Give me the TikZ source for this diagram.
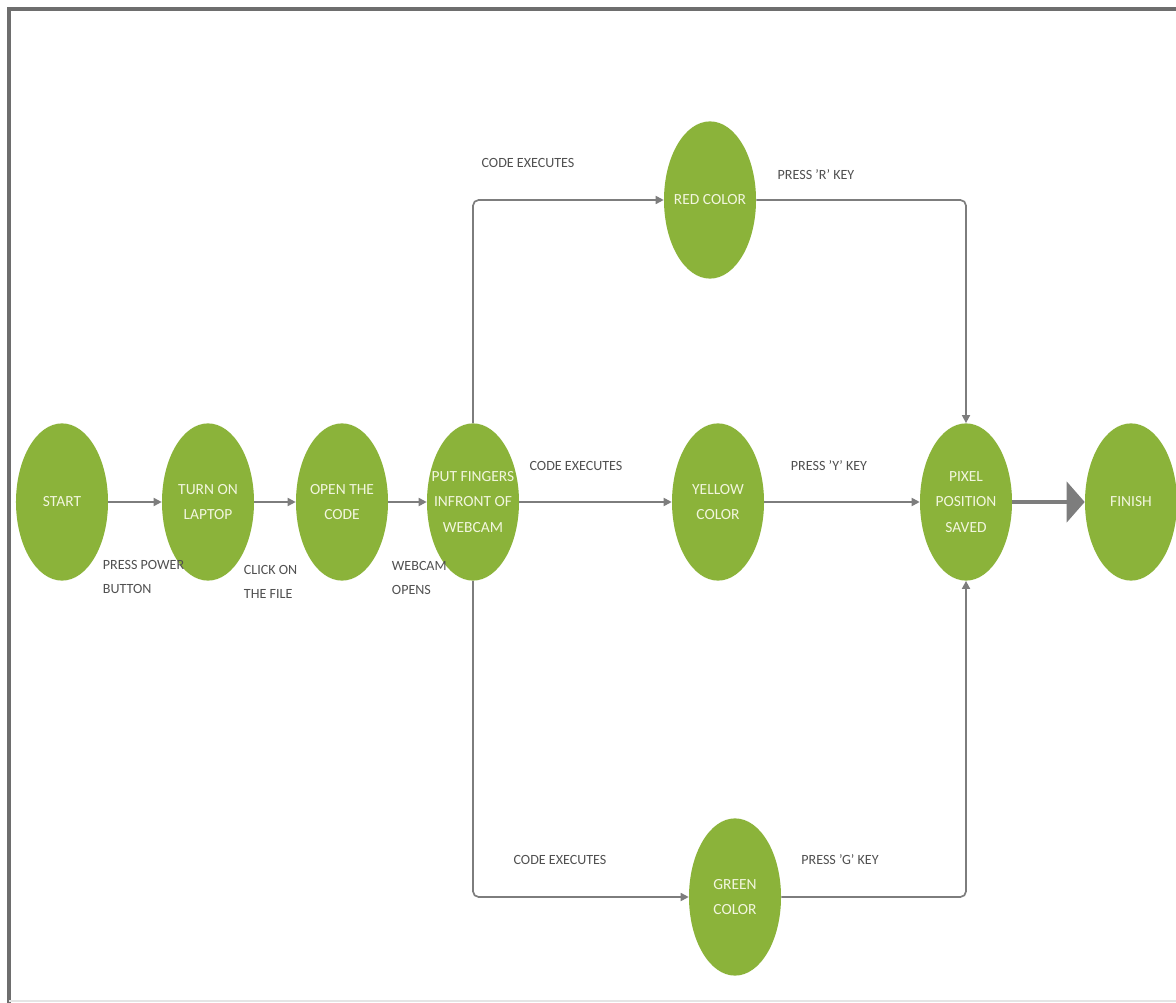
\documentclass[tikz,border=0pt]{standalone}
\usepackage{fontspec}
\setmainfont{Carlito}
\usetikzlibrary{shapes.geometric, arrows.meta, positioning}

\definecolor{leaf}{RGB}{139,179,58}
\definecolor{linegray}{RGB}{125,125,125}
\definecolor{labelgray}{RGB}{80,80,80}
\definecolor{paletext}{RGB}{242,246,222}
\definecolor{framegray}{RGB}{110,110,110}

\begin{document}
\begin{tikzpicture}[
  x=0.025cm, y=-0.025cm,
  state/.style={ellipse, fill=leaf, minimum width=2.3cm, minimum height=3.93cm, inner xsep=-12pt, inner ysep=0pt, align=center, text=paletext, font=\fontsize{11}{18}\selectfont},
  flow/.style={-{Triangle[length=2mm, width=2mm]}, draw=linegray, line width=1.2pt, rounded corners=4pt},
  bigflow/.style={-{Triangle[length=4.5mm, width=10mm]}, draw=linegray, line width=3.5pt},
  elabel/.style={font=\fontsize{10}{17}\selectfont, text=labelgray, align=left}
]
  \useasboundingbox (0,0) rectangle (1176,1003);
  \draw[framegray, line width=2.5pt] (9,1003) -- (9,9) -- (1176,9);
  \draw[gray!20, line width=1pt] (9,1001) -- (1176,1001);

  % main row
  \node[state] (start) at (62,502) {START};
  \node[state] (laptop) at (208,502) {TURN ON\\LAPTOP};
  \node[state] (code) at (342,502) {OPEN THE\\CODE};
  \node[state] (fingers) at (473,502) {PUT FINGERS\\INFRONT OF\\WEBCAM};
  \node[state] (yellow) at (718,502) {YELLOW\\COLOR};
  \node[state] (pixel) at (966,502) {PIXEL\\POSITION\\SAVED};
  \node[state] (finish) at (1131,502) {FINISH};

  % branches
  \node[state] (red) at (710,200) {RED COLOR};
  \node[state] (green) at (735,897) {GREEN\\COLOR};

  \draw[flow] (start) -- (laptop);
  \draw[flow] (laptop) -- (code);
  \draw[flow] (code) -- (fingers);
  \draw[flow] (fingers) -- (yellow);
  \draw[flow] (yellow) -- (pixel);
  \draw[bigflow] (pixel) -- (finish);

  \draw[flow] (fingers.north) |- (red);
  \draw[flow] (red) -| (pixel);
  \draw[flow] (fingers.south) |- (green);
  \draw[flow] (green) -| (pixel);

  % edge texts
  \node[elabel, anchor=west] (lpower) at (98,577) {PRESS POWER\\BUTTON};
  \node[elabel, anchor=west] (lclick) at (239,582) {CLICK ON\\THE FILE};
  \node[elabel, anchor=west] (lwebcam) at (387,578) {WEBCAM\\OPENS};
  \node[elabel] (lexectop) at (528,163) {CODE EXECUTES};
  \node[elabel] (lkeyr) at (816,175) {PRESS 'R' KEY};
  \node[elabel] (lexecmid) at (576,466) {CODE EXECUTES};
  \node[elabel] (lkeyy) at (829,466) {PRESS 'Y' KEY};
  \node[elabel] (lexecbot) at (560,860) {CODE EXECUTES};
  \node[elabel] (lkeyg) at (840,860) {PRESS 'G' KEY};
\end{tikzpicture}
\end{document}
